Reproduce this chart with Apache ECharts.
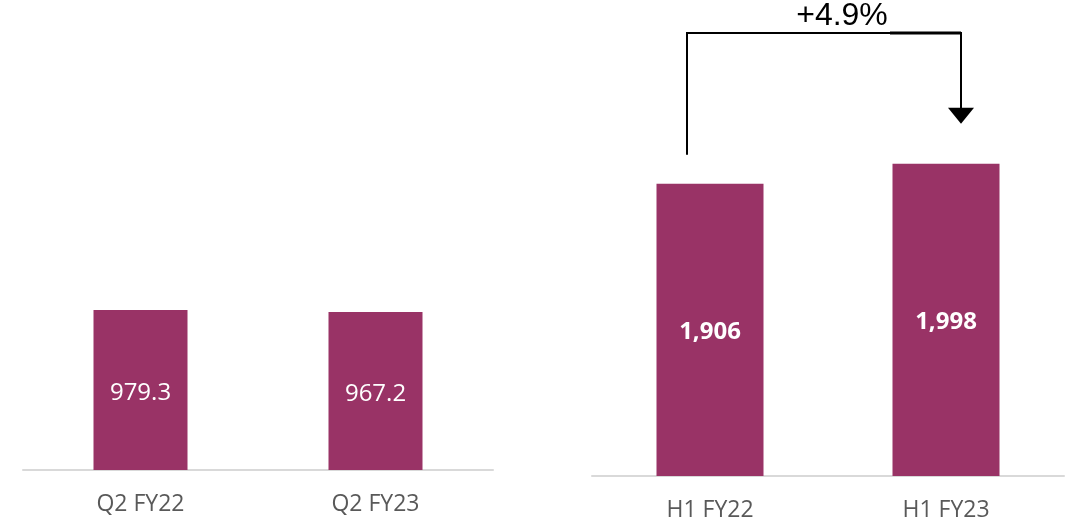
<!DOCTYPE html>
<html><head><meta charset="utf-8">
<script src="https://cdn.jsdelivr.net/npm/echarts@6/dist/echarts.min.js"></script>
<style>html,body{margin:0;padding:0;background:#fff}#c{width:1071px;height:525px}</style>
</head><body><div id="c"></div>
<script>
const quarterCats = ['Q2 FY22', 'Q2 FY23'];
const quarterVals = [979.3, 967.2];
const quarterLabels = ['979.3', '967.2'];
const halfCats = ['H1 FY22', 'H1 FY23'];
const halfVals = [1906, 1998];
const halfLabels = ['1,906', '1,998'];
const growthText = '+4.9%';

const BAR = '#993366';
const chart = echarts.init(document.getElementById('c'), null, {renderer: 'canvas'});
const catAxis = (idx, cats) => ({
  type: 'category', gridIndex: idx, data: cats,
  axisLine: {lineStyle: {color: '#d9d9d9', width: 2}},
  axisTick: {show: false},
  axisLabel: {color: '#595959', fontSize: 23, fontFamily: 'Open Sans', margin: 23}
});
chart.setOption({
  animation: false,
  grid: [
    {left: 23, width: 470, top: 29, bottom: 55},
    {left: 592, width: 472, top: 33, bottom: 49}
  ],
  xAxis: [catAxis(0, quarterCats), catAxis(1, halfCats)],
  yAxis: [
    {type: 'value', gridIndex: 0, min: 0, max: 2700, show: false, splitLine: {show: false}},
    {type: 'value', gridIndex: 1, min: 560, max: 2600, show: false, splitLine: {show: false}}
  ],
  series: [
    {type: 'bar', xAxisIndex: 0, yAxisIndex: 0, barWidth: 94, data: quarterVals,
     itemStyle: {color: BAR},
     label: {show: true, position: 'inside', offset: [0, 3], color: '#fff', fontSize: 24, fontFamily: 'Open Sans',
       formatter: p => quarterLabels[p.dataIndex]}},
    {type: 'bar', xAxisIndex: 1, yAxisIndex: 1, barWidth: 107, data: halfVals,
     itemStyle: {color: BAR},
     label: {show: true, position: 'inside', offset: [0, 2], color: '#fff', fontSize: 24, fontWeight: 'bold', fontFamily: 'Open Sans',
       formatter: p => halfLabels[p.dataIndex]}}
  ]
});

// bracket annotation derived from bar positions
const p0 = chart.convertToPixel({xAxisIndex: 1, yAxisIndex: 1}, [0, halfVals[0]]);
const p1 = chart.convertToPixel({xAxisIndex: 1, yAxisIndex: 1}, [1, halfVals[1]]);
const xL = p0[0] - 23, xR = p1[0] + 15;
const yTop = 33;
const yL = p0[1] - 29;
const yTip = p1[1] - 40;
chart.setOption({
  graphic: [
    {type: 'polyline', shape: {points: [[xL, yL], [xL, yTop], [xR, yTop], [xR, yTip - 14]]},
     style: {stroke: '#000', lineWidth: 2, fill: null}},
    {type: 'line', shape: {x1: xR - 71, y1: yTop, x2: xR, y2: yTop},
     style: {stroke: '#000', lineWidth: 3}},
    {type: 'polygon', shape: {points: [[xR - 13, yTip - 16], [xR + 13, yTip - 16], [xR, yTip]]},
     style: {fill: '#000'}},
    {type: 'text', x: (xL + xR) / 2 + 18, y: 16,
     style: {text: growthText, fill: '#000', fontSize: 32, fontFamily: 'Liberation Sans', align: 'center', verticalAlign: 'middle'}}
  ]
});
</script></body></html>
